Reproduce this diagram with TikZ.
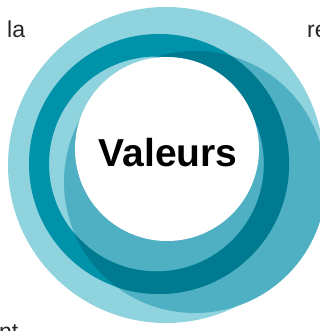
\documentclass[tikz,border=0pt]{standalone}
\usepackage{fontspec}
\setmainfont{Liberation Sans}
\definecolor{lightc}{RGB}{143,211,222}
\definecolor{midc}{RGB}{79,176,195}
\definecolor{darkc}{RGB}{0,146,168}
\definecolor{deepc}{RGB}{0,122,145}
\begin{document}
\begin{tikzpicture}[x=1pt,y=-1pt,
  edgetext/.style={inner sep=0pt,anchor=base west,font=\fontsize{23}{23}\selectfont,text=black!85}]
\useasboundingbox (0,0) rectangle (320,331);
% light outer circle
\fill[lightc] (166,165) circle[radius=158pt];
% medium offset circle
\fill[midc] (195,182) circle[radius=131pt];
% dark ring
\fill[darkc,even odd rule] (159,164) circle[radius=130pt] (156.5,164) circle[radius=107.5pt];
% dark ring over medium circle
\begin{scope}
  \clip (195,182) circle[radius=131pt];
  \fill[deepc,even odd rule] (159,164) circle[radius=130pt] (156.5,164) circle[radius=107.5pt];
\end{scope}
% white centre
\fill[white] (167,149) circle[radius=92pt];
\node[inner sep=0pt,font=\bfseries\fontsize{39}{39}\selectfont] (valeurs) at (168,153) {Valeurs};
\node[edgetext] (la) at (7,37.5) {la};
\node[edgetext] (re) at (307,37.5) {re};
\node[edgetext] (nt) at (-1,339) {nt};
\end{tikzpicture}
\end{document}
